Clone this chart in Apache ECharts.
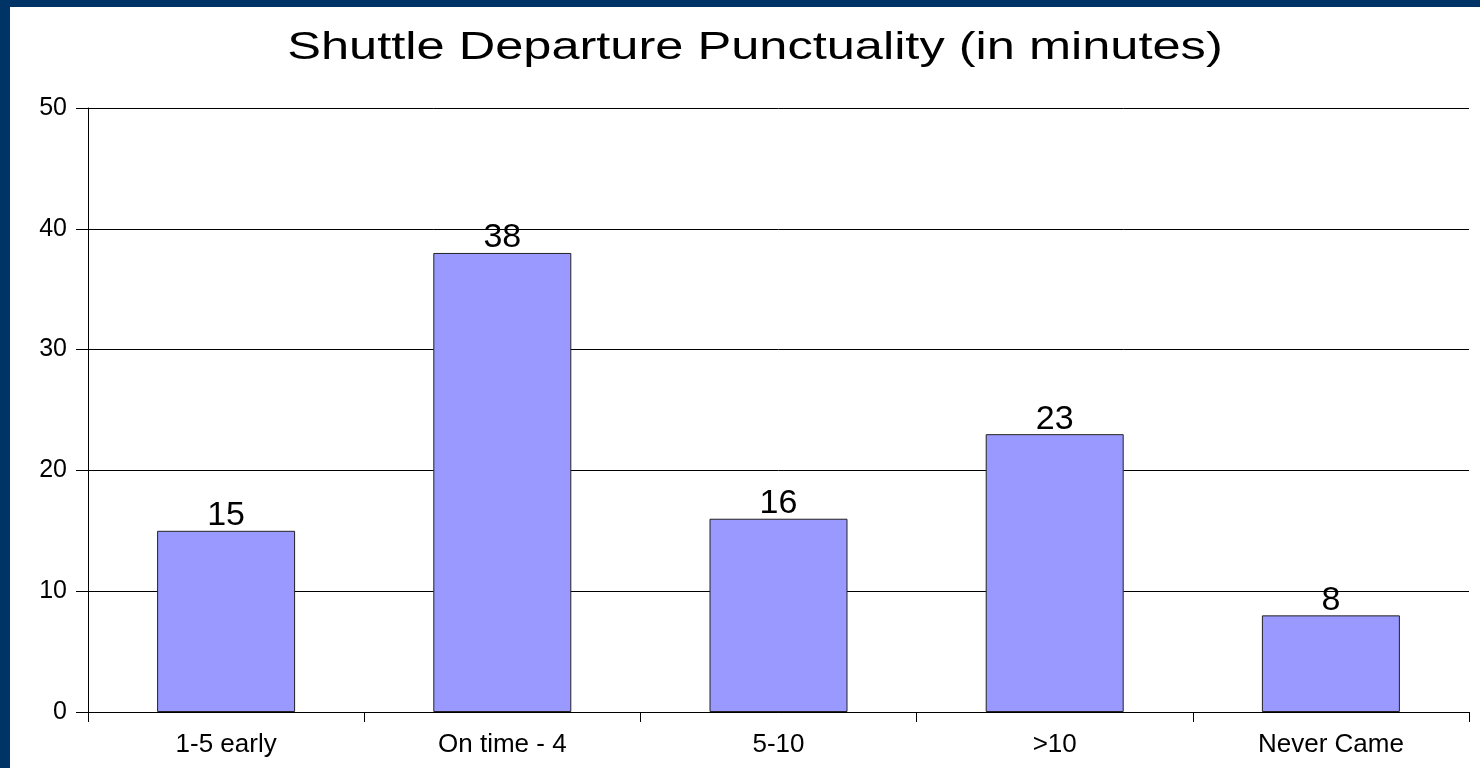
<!DOCTYPE html>
<html>
<head>
<meta charset="utf-8">
<title>Shuttle Departure Punctuality</title>
<script src="https://cdn.jsdelivr.net/npm/echarts@6/dist/echarts.min.js"></script>
<style>
  html, body { margin: 0; padding: 0; background: #ffffff; }
  #chart { width: 1480px; height: 768px; }
</style>
</head>
<body>
<div id="chart"></div>
<script>
// Punctuality categories and counts of departures in each
const categories = ['1-5 early', 'On time - 4', '5-10', '>10', 'Never Came'];
const departures = [15, 38, 16, 23, 8];
const yTicks = { min: 0, max: 50, step: 10 };
const chartTitle = 'Shuttle Departure Punctuality (in minutes)';

const FONT = '"Liberation Sans", Arial, Helvetica, sans-serif';

const chart = echarts.init(document.getElementById('chart'), null, { renderer: 'canvas' });

chart.setOption({
  backgroundColor: '#ffffff',
  animation: false,
  graphic: [
    // slide frame along the top and left edges
    { type: 'rect', left: 0, top: 0, z: -10, shape: { width: 1480, height: 7 }, style: { fill: '#003366' } },
    { type: 'rect', left: 0, top: 0, z: -10, shape: { width: 10, height: 768 }, style: { fill: '#003366' } },
    // title, set in a widened face
    {
      type: 'text',
      x: 755,
      y: 49,
      scaleX: 1.33,
      scaleY: 1,
      style: {
        text: chartTitle,
        font: '38px ' + FONT,
        fill: '#000000',
        align: 'center',
        verticalAlign: 'middle'
      }
    }
  ],
  grid: { left: 88, right: 11, top: 108, bottom: 56, containLabel: false },
  xAxis: {
    type: 'category',
    data: categories,
    boundaryGap: true,
    axisLine: { show: true, lineStyle: { color: '#000000', width: 1 } },
    axisTick: { show: true, alignWithLabel: false, length: 10, lineStyle: { color: '#000000' } },
    axisLabel: { color: '#000000', fontFamily: FONT, fontSize: 26, margin: 20 },
    splitLine: { show: false }
  },
  yAxis: {
    type: 'value',
    min: yTicks.min,
    max: yTicks.max,
    interval: yTicks.step,
    axisLine: { show: true, lineStyle: { color: '#000000', width: 1 } },
    axisTick: { show: true, inside: false, length: 12, lineStyle: { color: '#000000' } },
    axisLabel: { color: '#000000', fontFamily: FONT, fontSize: 25, margin: 21 },
    splitLine: { show: true, lineStyle: { color: '#000000', width: 1 } }
  },
  series: [{
    type: 'bar',
    data: departures,
    barWidth: 138,
    itemStyle: { color: '#9999ff', borderColor: '#222222', borderWidth: 1 },
    label: {
      show: true,
      position: 'top',
      distance: -2,
      color: '#000000',
      fontFamily: FONT,
      fontSize: 34
    }
  }]
});
</script>
</body>
</html>
